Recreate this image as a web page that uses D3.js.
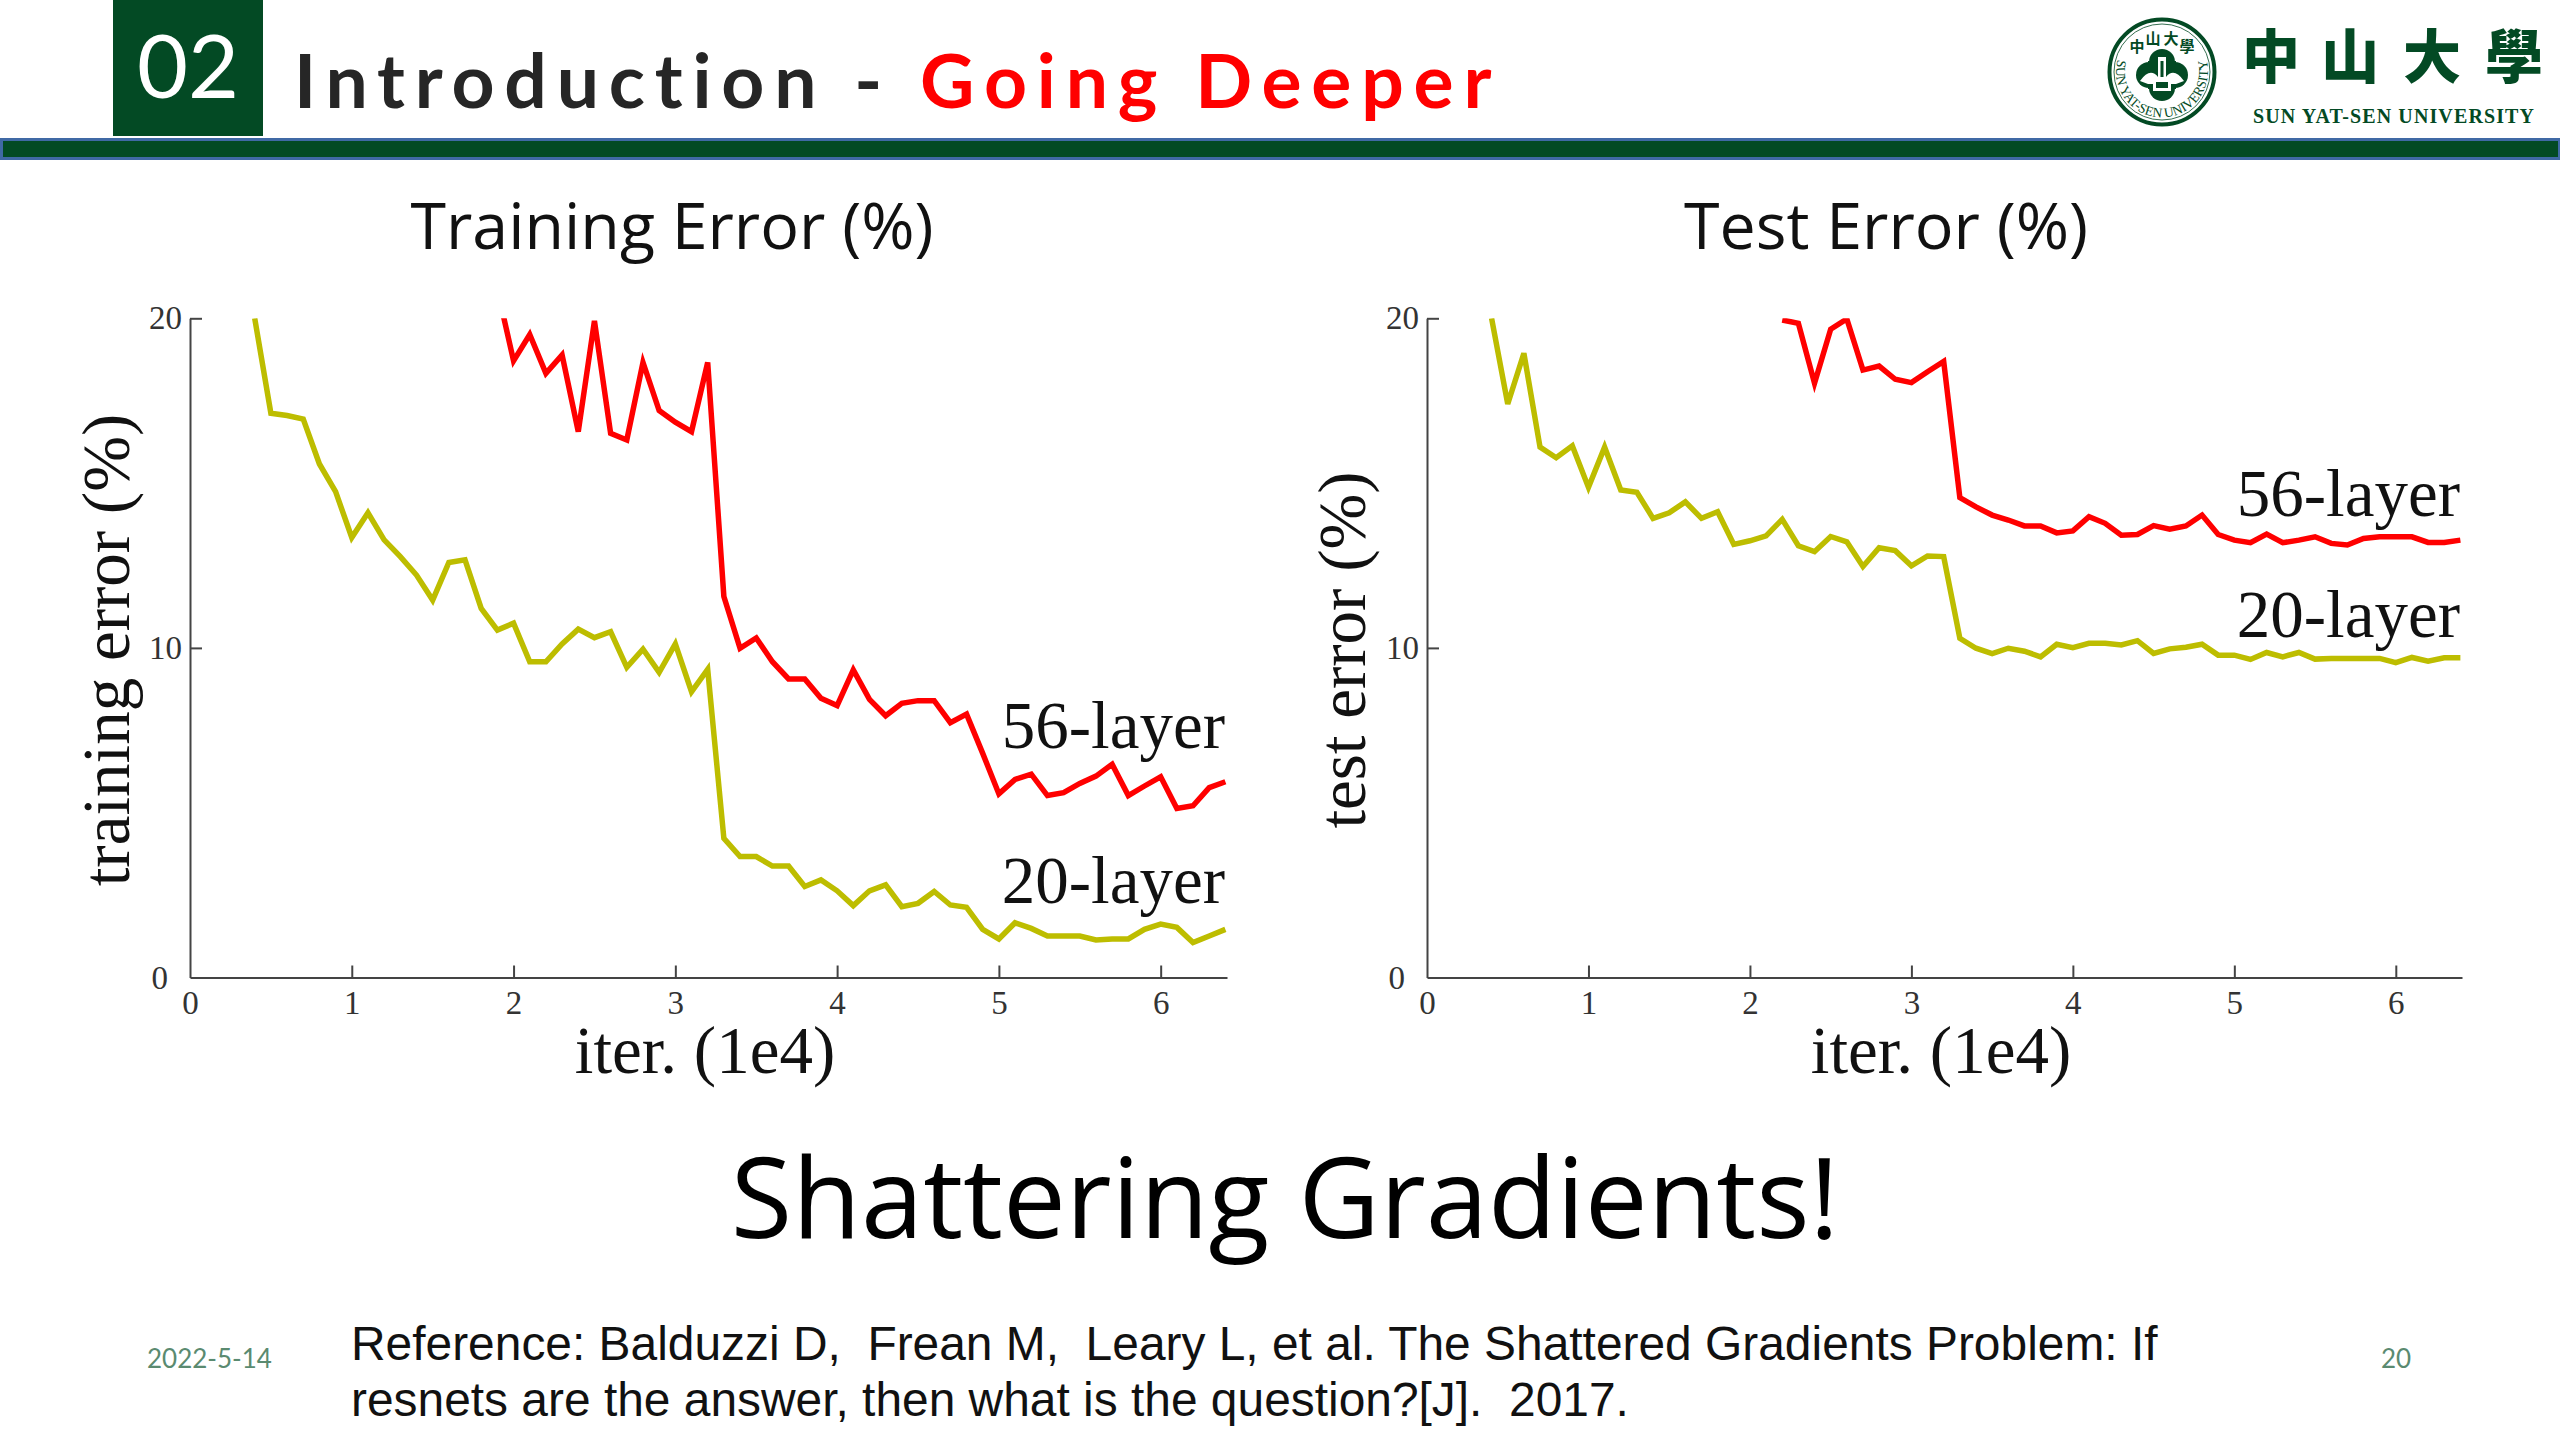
<!DOCTYPE html>
<html>
<head>
<meta charset="utf-8">
<script src="https://cdn.jsdelivr.net/npm/d3@7"></script>
<style>
  html, body { margin: 0; padding: 0; background: #fff; }
  svg { display: block; }
</style>
</head>
<body>
<div id="chart"></div>
<script>
let xTicks = [0, 1, 2, 3, 4, 5, 6];
let yTicks = [0, 10, 20];

let train20Iter = [0.4,0.5,0.6,0.7,0.8,0.9,1.0,1.1,1.2,1.3,1.4,1.5,1.6,1.7,1.8,1.9,2.0,2.1,2.2,2.3,2.4,2.5,2.6,2.7,2.8,2.9,3.0,3.1,3.2,3.3,3.4,3.5,3.6,3.7,3.8,3.9,4.0,4.1,4.2,4.3,4.4,4.5,4.6,4.7,4.8,4.9,5.0,5.1,5.2,5.3,5.4,5.5,5.6,5.7,5.8,5.9,6.0,6.1,6.2,6.3,6.4];
let train20 = [20,17.12,17.05,16.94,15.58,14.74,13.35,14.10,13.28,12.77,12.21,11.45,12.59,12.67,11.20,10.54,10.75,9.58,9.58,10.12,10.57,10.31,10.49,9.41,9.96,9.26,10.12,8.67,9.35,4.22,3.67,3.67,3.38,3.38,2.76,2.96,2.63,2.18,2.63,2.81,2.15,2.25,2.61,2.20,2.13,1.46,1.17,1.66,1.49,1.26,1.26,1.26,1.14,1.17,1.17,1.46,1.62,1.52,1.06,1.26,1.46];

let train56Iter = [1.9,2.0,2.1,2.2,2.3,2.4,2.5,2.6,2.7,2.8,2.9,3.0,3.1,3.2,3.3,3.4,3.5,3.6,3.7,3.8,3.9,4.0,4.1,4.2,4.3,4.4,4.5,4.6,4.7,4.8,4.9,5.0,5.1,5.2,5.3,5.4,5.5,5.6,5.7,5.8,5.9,6.0,6.1,6.2,6.3,6.4];
let train56 = [20.88,18.71,19.51,18.33,18.89,16.56,19.92,16.51,16.31,18.66,17.20,16.85,16.56,18.66,11.56,9.99,10.30,9.58,9.06,9.06,8.47,8.25,9.33,8.44,7.94,8.32,8.40,8.40,7.73,7.99,6.80,5.57,6.01,6.17,5.52,5.61,5.89,6.11,6.47,5.52,5.81,6.09,5.13,5.21,5.76,5.94];

let test20Iter = train20Iter;
let test20 = [20,17.40,18.94,16.09,15.77,16.13,14.87,16.09,14.79,14.72,13.93,14.10,14.43,13.93,14.13,13.14,13.25,13.40,13.90,13.10,12.92,13.38,13.22,12.47,13.04,12.95,12.49,12.79,12.77,10.29,9.99,9.83,9.99,9.90,9.73,10.11,10.01,10.14,10.14,10.09,10.22,9.83,9.97,10.02,10.11,9.78,9.78,9.65,9.86,9.73,9.86,9.66,9.68,9.68,9.68,9.68,9.55,9.71,9.60,9.70,9.70];

let test56Iter = [2.2,2.3,2.4,2.5,2.6,2.7,2.8,2.9,3.0,3.1,3.2,3.3,3.4,3.5,3.6,3.7,3.8,3.9,4.0,4.1,4.2,4.3,4.4,4.5,4.6,4.7,4.8,4.9,5.0,5.1,5.2,5.3,5.4,5.5,5.6,5.7,5.8,5.9,6.0,6.1,6.2,6.3,6.4];
let test56 = [19.95,19.85,18.03,19.67,19.98,18.43,18.55,18.15,18.05,18.38,18.69,14.56,14.28,14.03,13.88,13.70,13.70,13.49,13.55,13.98,13.78,13.42,13.44,13.71,13.60,13.70,14.03,13.44,13.27,13.19,13.45,13.19,13.27,13.37,13.17,13.12,13.32,13.37,13.37,13.37,13.20,13.20,13.27];

let green = '#034a24';
let serif = '"Liberation Serif", serif';
let sans = '"Open Sans", sans-serif';

let svg = d3.select('#chart').append('svg')
    .attr('width', 2560)
    .attr('height', 1440);

svg.append('rect').attr('width', 2560).attr('height', 1440).attr('fill', '#fff');

// header
svg.append('rect').attr('x', 113).attr('y', 0).attr('width', 150).attr('height', 136).attr('fill', green);
svg.append('text')
    .attr('x', 188).attr('y', 98)
    .attr('text-anchor', 'middle')
    .attr('font-family', 'Lato, sans-serif').attr('font-size', 88)
    .attr('fill', '#fff')
    .text('02');

let title = svg.append('text')
    .attr('x', 294).attr('y', 108)
    .attr('font-family', 'Lato, sans-serif').attr('font-size', 75).attr('font-weight', 700)
    .attr('letter-spacing', 9.8)
    .attr('fill', '#262626');
title.append('tspan').text('Introduction - ');
title.append('tspan').attr('fill', '#ff0000').text('Going Deeper');

svg.append('rect')
    .attr('x', 1.5).attr('y', 139.5).attr('width', 2558).attr('height', 19)
    .attr('fill', green).attr('stroke', '#4069a5').attr('stroke-width', 3);

drawLogo();

// the two panels
drawPanel({
    left: 190, right: 1227, axisLabel: 'training error (%)', labelX: 129, labelY: 650,
    iterX: 705, title: 'Training Error (%)', titleX: 672,
    s20: [train20Iter, train20], s56: [train56Iter, train56],
    y56: 748, y20: 903, id: 'clipA'
});
drawPanel({
    left: 1427, right: 2462, axisLabel: 'test error (%)', labelX: 1365, labelY: 650,
    iterX: 1941, title: 'Test Error (%)', titleX: 1886,
    s20: [test20Iter, test20], s56: [test56Iter, test56],
    y56: 516, y20: 637, id: 'clipB'
});

function drawPanel(p) {
    let x = d3.scaleLinear().domain([0, 6.41]).range([p.left, p.right]);
    let y = d3.scaleLinear().domain([0, 20]).range([977.5, 318.3]);

    svg.append('clipPath').attr('id', p.id).append('rect')
        .attr('x', p.left).attr('y', y(20))
        .attr('width', p.right - p.left).attr('height', y(0) - y(20));

    let xAxis = svg.append('g')
        .attr('transform', 'translate(0,' + y(0) + ')')
        .call(d3.axisBottom(x).tickValues(xTicks).tickSize(-12).tickSizeOuter(0).tickPadding(13).tickFormat(d3.format('d')));
    let yAxis = svg.append('g')
        .attr('transform', 'translate(' + p.left + ',0)')
        .call(d3.axisLeft(y).tickValues(yTicks).tickSize(-12).tickSizeOuter(0).tickPadding(8).tickFormat(d3.format('d')));

    [xAxis, yAxis].forEach(function(a) {
        a.selectAll('path').attr('stroke', '#444').attr('stroke-width', 2);
        a.selectAll('line').attr('stroke', '#444').attr('stroke-width', 2);
        a.selectAll('text')
            .attr('font-family', serif).attr('font-size', 33).attr('fill', '#333');
    });
    xAxis.selectAll('.tick').filter(d => d === 0).select('line').remove();
    yAxis.selectAll('.tick').filter(d => d === 0).select('line').remove();
    yAxis.selectAll('.tick').filter(d => d === 0).select('text').attr('dy', '0.32em').attr('x', -22);

    let line = d3.line().x(d => x(d[0])).y(d => y(d[1]));
    [[p.s20, '#bdbd00'], [p.s56, '#ff0000']].forEach(function(s) {
        svg.append('path')
            .datum(d3.zip(s[0][0], s[0][1]))
            .attr('d', line)
            .attr('fill', 'none')
            .attr('stroke', s[1])
            .attr('stroke-width', 5.5)
            .attr('stroke-linejoin', 'miter')
            .attr('clip-path', 'url(#' + p.id + ')');
    });

    // text on the figure
    svg.append('text')
        .attr('transform', 'translate(' + p.labelX + ',' + p.labelY + ') rotate(-90)')
        .attr('text-anchor', 'middle')
        .attr('font-family', serif).attr('font-size', 67).attr('fill', '#111')
        .text(p.axisLabel);
    svg.append('text')
        .attr('x', p.iterX).attr('y', 1073)
        .attr('text-anchor', 'middle')
        .attr('font-family', serif).attr('font-size', 67).attr('fill', '#111')
        .text('iter. (1e4)');
    svg.append('text')
        .attr('x', p.right - 2).attr('y', p.y56)
        .attr('text-anchor', 'end')
        .attr('font-family', serif).attr('font-size', 67).attr('fill', '#111')
        .text('56-layer');
    svg.append('text')
        .attr('x', p.right - 2).attr('y', p.y20)
        .attr('text-anchor', 'end')
        .attr('font-family', serif).attr('font-size', 67).attr('fill', '#111')
        .text('20-layer');
    svg.append('text')
        .attr('x', p.titleX).attr('y', 249)
        .attr('text-anchor', 'middle')
        .attr('font-family', sans).attr('font-size', 64.5).attr('fill', '#111')
        .text(p.title);
}

// bottom text
svg.append('text')
    .attr('x', 1285).attr('y', 1238)
    .attr('text-anchor', 'middle')
    .attr('font-family', sans).attr('font-size', 112).attr('fill', '#000')
    .text('Shattering Gradients!');

svg.append('text')
    .attr('x', 351).attr('y', 1360)
    .attr('font-family', '"Liberation Sans", sans-serif').attr('font-size', 47.9).attr('fill', '#111')
    .text('Reference: Balduzzi D,  Frean M,  Leary L, et al. The Shattered Gradients Problem: If')
    .attr('xml:space', 'preserve');
svg.append('text')
    .attr('x', 351).attr('y', 1416)
    .attr('font-family', '"Liberation Sans", sans-serif').attr('font-size', 47.9).attr('fill', '#111')
    .text('resnets are the answer, then what is the question?[J].  2017.')
    .attr('xml:space', 'preserve');

svg.append('text')
    .attr('x', 147).attr('y', 1368)
    .attr('font-family', 'Lato, sans-serif').attr('font-size', 26).attr('fill', '#5a8a70')
    .text('2022-5-14');
svg.append('text')
    .attr('x', 2381).attr('y', 1368)
    .attr('font-family', 'Lato, sans-serif').attr('font-size', 26).attr('fill', '#5a8a70')
    .text('20');

function drawLogo() {
    let g = svg.append('g').attr('fill', green);
    let cx = 2162, cy = 72;
    g.append('circle').attr('cx', cx).attr('cy', cy).attr('r', 52.5)
        .attr('fill', '#fff').attr('stroke', green).attr('stroke-width', 4);
    g.append('circle').attr('cx', cx).attr('cy', cy).attr('r', 48)
        .attr('fill', 'none').attr('stroke', green).attr('stroke-width', 0.8);

    // seal lettering
    svg.append('path').attr('id', 'sealBottom').attr('fill', 'none')
        .attr('d', 'M' + (cx - 44) + ',' + (cy - 14) + ' A46,46 0 1,0 ' + (cx + 44) + ',' + (cy - 14));
    g.append('text')
        .attr('font-family', serif).attr('font-size', 13.5)
        .append('textPath').attr('href', '#sealBottom').attr('startOffset', '50%')
        .attr('text-anchor', 'middle')
        .text('SUN YAT-SEN UNIVERSITY');
    [['中', -25, -23], ['山', -9, -31], ['大', 9, -31], ['學', 25, -23]].forEach(function(c) {
        g.append('text')
            .attr('x', cx + c[1]).attr('y', cy + c[2] + 3)
            .attr('text-anchor', 'middle')
            .attr('font-family', '"Noto Sans CJK TC"').attr('font-weight', 700).attr('font-size', 15)
            .text(c[0]);
    });

    // quatrefoil with the tower
    let em = g.append('g').attr('transform', 'translate(' + cx + ',' + (cy + 3) + ')');
    [[0, -13, 13], [0, 13, 13], [-13, 0, 13], [13, 0, 13]].forEach(function(c) {
        em.append('circle').attr('cx', c[0]).attr('cy', c[1]).attr('r', c[2]);
    });
    em.append('rect').attr('x', -14).attr('y', -14).attr('width', 28).attr('height', 28);
    em.append('path').attr('fill', '#fff')
        .attr('d', 'M-22,6 Q-12,-8 -4,2 L4,2 Q12,-8 22,6 L14,9 L-14,9 Z');
    em.append('rect').attr('x', -4).attr('y', -18).attr('width', 8).attr('height', 22).attr('fill', '#fff');
    em.append('rect').attr('x', -1.5).attr('y', -14).attr('width', 3).attr('height', 16);
    em.append('rect').attr('x', -9).attr('y', 4).attr('width', 18).attr('height', 12).attr('fill', '#fff');
    em.append('rect').attr('x', -6).attr('y', 7).attr('width', 12).attr('height', 6);

    // school name
    [['中', 2271], ['山', 2350], ['大', 2432], ['學', 2514]].forEach(function(c) {
        g.append('text')
            .attr('x', c[1]).attr('y', 78)
            .attr('text-anchor', 'middle')
            .attr('font-family', '"Noto Sans CJK TC"').attr('font-weight', 900).attr('font-size', 58)
            .text(c[0]);
    });
    g.append('text')
        .attr('x', 2253).attr('y', 123)
        .attr('font-family', serif).attr('font-weight', 700).attr('font-size', 20)
        .attr('textLength', 281).attr('lengthAdjust', 'spacing')
        .text('SUN YAT-SEN UNIVERSITY');
}
</script>
</body>
</html>
